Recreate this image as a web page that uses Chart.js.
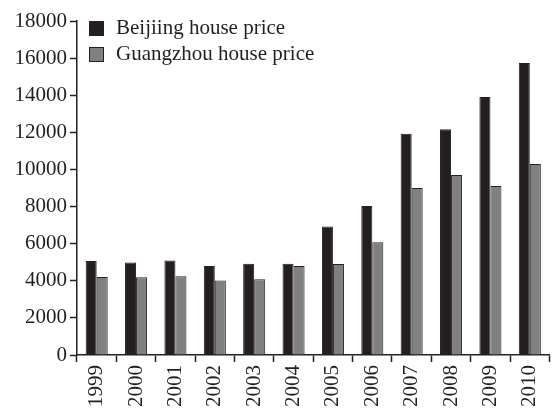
<!DOCTYPE html>
<html>
<head>
<meta charset="utf-8">
<script src="https://cdn.jsdelivr.net/npm/chart.js@4/dist/chart.umd.min.js"></script>
<style>
  html, body { margin: 0; padding: 0; background: #fff; }
  #wrap { width: 558px; height: 408px; }
</style>
</head>
<body>
<div id="wrap"><canvas id="houseChart"></canvas></div>
<script>
const years = ["1999", "2000", "2001", "2002", "2003", "2004", "2005", "2006", "2007", "2008", "2009", "2010"];
const beijing = [5070, 4980, 5090, 4800, 4920, 4920, 6920, 8030, 11920, 12170, 13910, 15730];
const guangzhou = [4200, 4190, 4250, 4010, 4080, 4800, 4910, 6080, 9000, 9700, 9110, 10300];
const yTicks = [0, 2000, 4000, 6000, 8000, 10000, 12000, 14000, 16000, 18000];

const ink = "#231f20";
const serif = "'Liberation Serif', 'Times New Roman', serif";

// legend drawn as a stacked list in the top-left corner of the plot
const cornerLegend = {
    id: "cornerLegend",
    afterDraw(chart) {
        const ctx = chart.ctx;
        ctx.save();
        ctx.font = "21px " + serif;
        ctx.textBaseline = "middle";
        chart.data.datasets.forEach((ds, i) => {
            const y = 21 + i * 26;
            ctx.fillStyle = ds.backgroundColor;
            ctx.fillRect(89.5, y + 0.5, 14, 14);
            ctx.strokeStyle = ink;
            ctx.lineWidth = 1;
            ctx.strokeRect(89.5, y + 0.5, 14, 14);
            ctx.fillStyle = ink;
            ctx.fillText(ds.label, 116, y + 7);
        });
        ctx.restore();
    }
};

new Chart(document.getElementById("houseChart"), {
    type: "bar",
    data: {
        labels: years,
        datasets: [
            {
                label: "Beijiing house price",
                data: beijing,
                backgroundColor: ink,
                borderColor: ink,
                borderWidth: 1,
                categoryPercentage: 0.56,
                barPercentage: 1
            },
            {
                label: "Guangzhou house price",
                data: guangzhou,
                backgroundColor: "#808080",
                borderColor: ink,
                borderWidth: 1,
                categoryPercentage: 0.56,
                barPercentage: 1
            }
        ]
    },
    options: {
        responsive: true,
        maintainAspectRatio: false,
        animation: false,
        layout: { padding: { top: 21, right: 0, left: 0, bottom: 0 } },
        plugins: {
            legend: { display: false },
            tooltip: { enabled: false }
        },
        scales: {
            x: {
                grid: {
                    offset: true,
                    drawOnChartArea: false,
                    color: ink,
                    tickColor: ink,
                    tickWidth: 1.5,
                    tickLength: 7
                },
                border: { color: ink, width: 1.5 },
                ticks: {
                    color: ink,
                    font: { family: serif, size: 21 },
                    minRotation: 90,
                    maxRotation: 90,
                    padding: 3
                },
                afterFit(scale) { scale.height = 53; }
            },
            y: {
                min: 0,
                max: 18000,
                afterBuildTicks(scale) {
                    scale.ticks = yTicks.map(v => ({ value: v }));
                },
                grid: {
                    drawOnChartArea: false,
                    color: ink,
                    tickColor: ink,
                    tickWidth: 1.5,
                    tickLength: 7
                },
                border: { color: ink, width: 1.5 },
                ticks: {
                    color: ink,
                    font: { family: serif, size: 21 },
                    padding: 3,
                    callback: v => String(v)
                },
                afterFit(scale) { scale.width = 77; }
            }
        }
    },
    plugins: [cornerLegend]
});
</script>
</body>
</html>
